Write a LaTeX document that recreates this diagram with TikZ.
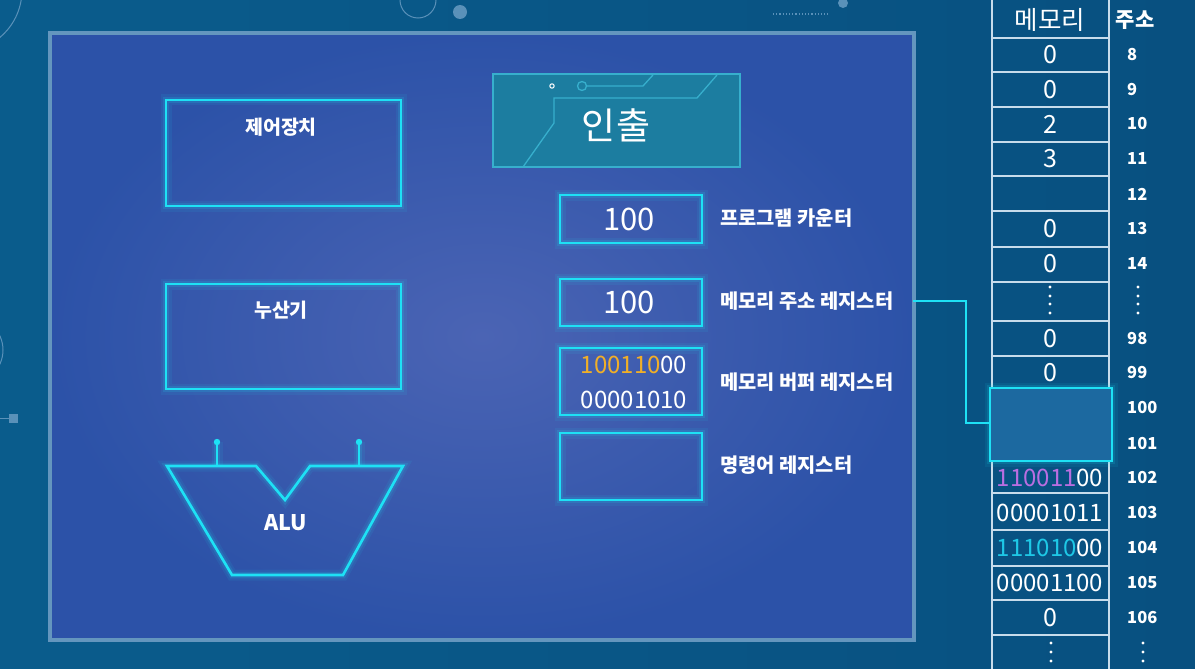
\documentclass[tikz,border=0pt]{standalone}
\usepackage{fontspec}
\setmainfont{Noto Sans CJK KR}
\usetikzlibrary{calc}
\definecolor{bgA}{RGB}{10,92,140}
\definecolor{bgB}{RGB}{8,80,128}
\definecolor{cyanL}{RGB}{30,225,245}
\definecolor{panelEdge}{RGB}{100,150,190}
\definecolor{panelIn}{RGB}{75,100,180}
\definecolor{panelOut}{RGB}{44,82,168}
\definecolor{fetchFill}{RGB}{28,125,160}
\definecolor{fetchLine}{RGB}{55,175,205}
\definecolor{orangeT}{RGB}{240,175,40}
\definecolor{purpleT}{RGB}{185,110,225}
\definecolor{cyanT}{RGB}{30,200,230}
\definecolor{gridL}{RGB}{200,220,235}
\definecolor{hiFill}{RGB}{28,105,160}
\definecolor{decoL}{RGB}{90,145,185}
\begin{document}
\begin{tikzpicture}[x=1pt,y=-1pt,
  glow/.style={draw=cyanL, line width=2.6pt,
    preaction={draw=cyanL, draw opacity=0.08, line width=11pt},
    preaction={draw=cyanL, draw opacity=0.14, line width=6.5pt}},
  box/.style={glow, rectangle, inner sep=0pt},
  unitlbl/.style={text=white, font=\fontsize{19.5}{22}\selectfont\bfseries, inner sep=0pt},
  reglbl/.style={text=white, font=\fontsize{19.8}{22}\selectfont\bfseries, anchor=west, inner sep=0pt},
  regval/.style={text=white, font=\fontsize{31}{34}\selectfont, inner sep=0pt},
  binval/.style={text=white, font=\fontsize{24}{26}\selectfont, inner sep=0pt},
  memval/.style={text=white, font=\fontsize{25}{27}\selectfont, inner sep=0pt},
  addr/.style={text=white, font=\fontsize{16.5}{18}\selectfont\bfseries, anchor=west, inner sep=0pt},
  grid/.style={draw=gridL, line width=1.3pt},
  conn/.style={draw=cyanL, line width=2.6pt}
]
\useasboundingbox (0,0) rectangle (1195,669);
% background
\shade[left color=bgA, right color=bgB] (0,0) rectangle (1195,669);
% decorations
\draw[decoL, line width=1pt] (-40,-10) circle[radius=62];
\draw[decoL, line width=1pt] (418,0) circle[radius=18];
\fill[decoL] (460,12) circle[radius=7];
\fill[decoL] (843,3) circle[radius=5];
\draw[decoL, line width=1.2pt, dotted] (773,14) -- (828,14);
\draw[decoL, line width=1pt] (-30,350) circle[radius=33];
\draw[decoL, line width=1pt] (0,418) -- (9,418);
\fill[decoL] (9,414) rectangle (18,423);
% panel
\shade[inner color=panelIn, outer color=panelOut] (50,33) rectangle (914,640);
\draw[panelEdge, line width=4pt] (50,33) rectangle (914,640);
% control unit
\node[box, minimum width=235, minimum height=106] (ctrl) at (283.5,153) {};
\node[unitlbl] (ctrllbl) at (281,127) {제어장치};
% accumulator
\node[box, minimum width=235, minimum height=105] (acc) at (283.5,336.5) {};
\node[unitlbl] (acclbl) at (281,310) {누산기};
% ALU
\coordinate (aluL) at (217,466);
\coordinate (aluR) at (359,466);
\draw[glow, line join=miter] (167,466) -- (256,466) -- (285,500) -- (310,466) -- (403,466) -- (343,575) -- (232,575) -- cycle;
\draw[glow] (aluL) -- ++(0,-24);
\draw[glow] (aluR) -- ++(0,-24);
\fill[cyanL] (217,442) circle[radius=3.2];
\fill[cyanL] (359,442) circle[radius=3.2];
\node[text=white, font=\fontsize{21.5}{24}\selectfont\bfseries, inner sep=0pt] (alu) at (286,523) {ALU};
% fetch box
\node[rectangle, fill=fetchFill, draw=fetchLine, line width=1.5pt, minimum width=247, minimum height=93, inner sep=0pt] (fetch) at (616.5,120.5) {};
\draw[fetchLine, line width=1.3pt] (582,86) circle[radius=4.5];
\draw[fetchLine, line width=1.3pt] (586.5,86) -- (643,86) -- (653,75);
\draw[fetchLine, line width=1.3pt] (523,167) -- (554,123) -- (554,98) -- (697,98) -- (717,75);
\draw[white, line width=1pt] (552,86) circle[radius=2.2];
\node[text=white, font=\fontsize{37}{40}\selectfont, inner sep=0pt] (fetchlbl) at (616,125) {인출};
% registers
\node[box, minimum width=142, minimum height=48] (pc) at (631,219) {};
\node[regval] at (629,219) {100};
\node[reglbl] (pclbl) at (720,218) {프로그램 카운터};
\node[box, minimum width=142, minimum height=47] (mar) at (631,302.5) {};
\node[regval] at (629,302.5) {100};
\node[reglbl] (marlbl) at (720,301) {메모리 주소 레지스터};
\node[box, minimum width=142, minimum height=67] (mbr) at (631,381.5) {};
\node[binval] at (634,365) {{\color{orangeT}100110}00};
\node[binval] at (634,400) {00001010};
\node[reglbl] (mbrlbl) at (720,382) {메모리 버퍼 레지스터};
\node[box, minimum width=142, minimum height=67] (ir) at (631,466.5) {};
\node[reglbl] (irlbl) at (720,465) {명령어 레지스터};
% memory table
\draw[grid] (992,0) -- (992,669);
\draw[grid] (1109,0) -- (1109,669);
\foreach \yy in {38,72,107,142,176,211,247,282,321,356,493,530,566,600,635}
  \draw[grid] (992,\yy) -- (1109,\yy);
\node[text=white, font=\fontsize{25.5}{28}\selectfont, inner sep=0pt] (memhd) at (1050,20) {메모리};
\node[text=white, font=\fontsize{21}{23}\selectfont\bfseries, inner sep=0pt] (addrhd) at (1135,20) {주소};
\foreach \yy/\vv/\aa in {55/0/8, 90/0/9, 124/2/10, 159/3/11, 194/{}/12, 229/0/13, 264/0/14, 339/0/98, 373/0/99, 618/0/106}{
  \node[memval] at (1050,\yy) {\vv};
  \node[addr] at (1127,\yy) {\aa};
}
\foreach \yy/\vv/\aa in {478/{{\color{purpleT}110011}00}/102, 513/00001011/103, 548/{{\color{cyanT}111010}00}/104, 583/00001100/105}{
  \node[binval] at (1050,\yy) {\vv};
  \node[addr] at (1127,\yy) {\aa};
}
\node[addr] at (1127,408) {100};
\node[addr] at (1127,444) {101};
\foreach \yy in {287,296,304,313}{
  \fill[white] (1050,\yy) circle[radius=1.6];
  \fill[white] (1138,\yy) circle[radius=1.6];
}
\foreach \yy in {643,652,661}{
  \fill[white] (1051,\yy) circle[radius=1.6];
  \fill[white] (1143,\yy) circle[radius=1.6];
}
% highlighted memory cells
\node[box, fill=hiFill, minimum width=122, minimum height=73] (hi) at (1051,424.5) {};
% connector
\coordinate (j1) at (966,301);
\coordinate (j2) at (966,423);
\draw[conn, shorten <=20pt] (marlbl.east) -- (j1) -- (j2) -- (j2 -| hi.west);
\end{tikzpicture}
\end{document}
